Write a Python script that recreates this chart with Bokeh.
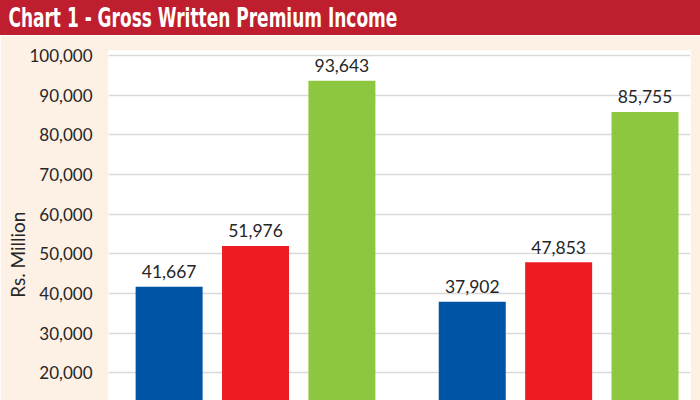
from bokeh.plotting import figure
from bokeh.layouts import column
from bokeh.models import ColumnDataSource, Range1d, NumeralTickFormatter, FixedTicker, Div
from bokeh.core.properties import value
from bokeh.embed import file_html
from bokeh.resources import INLINE

# ---- data ----
title_text = "Chart 1 - Gross Written Premium Income"
y_axis_title = "Rs. Million"
groups = ["Group 1", "Group 2"]
series_blue = [41667, 37902]
series_red = [51976, 47853]
series_green = [93643, 85755]
y_ticks = [20000, 30000, 40000, 50000, 60000, 70000, 80000, 90000, 100000]

colors = ["#0054A6", "#ED1C24", "#8DC63F"]
offsets = [-0.285, 0.0, 0.285]
bar_w = 0.221

W = 700
HDR_H = 35
MAIN_H = 400 - HDR_H
LABEL_FONT = "Lato"

# ---- header bar ----
hdr = Div(
    text=('<span style="display:inline-block; transform:scaleX(0.7); transform-origin:0 50%; '
          'white-space:nowrap; font-family:\'DejaVu Sans Condensed\', \'DejaVu Sans\', sans-serif; '
          'font-weight:bold; font-size:27px; line-height:35px; color:white; padding-left:12px;">'
          + title_text + '</span>'),
    width=W, height=HDR_H, margin=(0, 0, 0, 0),
    styles={"background-color": "#BE1E2D", "overflow": "hidden"},
)

# ---- main chart ----
p = figure(width=W, height=MAIN_H, x_range=Range1d(-0.485, 1.435), y_range=Range1d(12990, 101260),
           output_backend="svg", toolbar_location=None, x_axis_location=None,
           min_border_left=108, min_border_right=10, min_border_top=15, min_border_bottom=0)
p.background_fill_color = "white"
p.border_fill_color = "#FDF0E4"
p.outline_line_color = None
p.xgrid.visible = False
p.ygrid.ticker = FixedTicker(ticks=y_ticks)
p.ygrid.grid_line_color = "#D9D9D9"
p.ygrid.grid_line_width = 1.5

ax = p.yaxis[0]
ax.ticker = FixedTicker(ticks=y_ticks)
ax.formatter = NumeralTickFormatter(format="0,0")
ax.axis_line_color = None
ax.major_tick_line_color = None
ax.minor_tick_line_color = None
ax.major_label_text_font = LABEL_FONT
ax.major_label_text_font_size = "17px"
ax.major_label_text_color = "#262626"
ax.major_label_standoff = 10
# trailing no-break spaces push the centred rotated label down to where the reference has it
ax.axis_label = y_axis_title + "\u00a0" * 12
ax.axis_label_text_font = LABEL_FONT
ax.axis_label_text_font_style = "normal"
ax.axis_label_text_font_size = "19px"
ax.axis_label_text_color = "#262626"
ax.axis_label_standoff = -3

for series, color, off in zip([series_blue, series_red, series_green], colors, offsets):
    src = ColumnDataSource(dict(
        x=[i + off for i in range(len(groups))],
        top=series,
        label=[f"{v:,}" for v in series],
    ))
    p.vbar(x="x", top="top", bottom=0, width=bar_w, source=src,
           fill_color=color, line_color=None)
    p.text(x="x", y="top", text="label", source=src, text_align="center",
           text_baseline="alphabetic", y_offset=-15, text_font=value(LABEL_FONT),
           text_font_size="17.5px", text_color="#262626")

layout = column(hdr, p, spacing=0)
open("out.html", "w").write(file_html(layout, INLINE))
